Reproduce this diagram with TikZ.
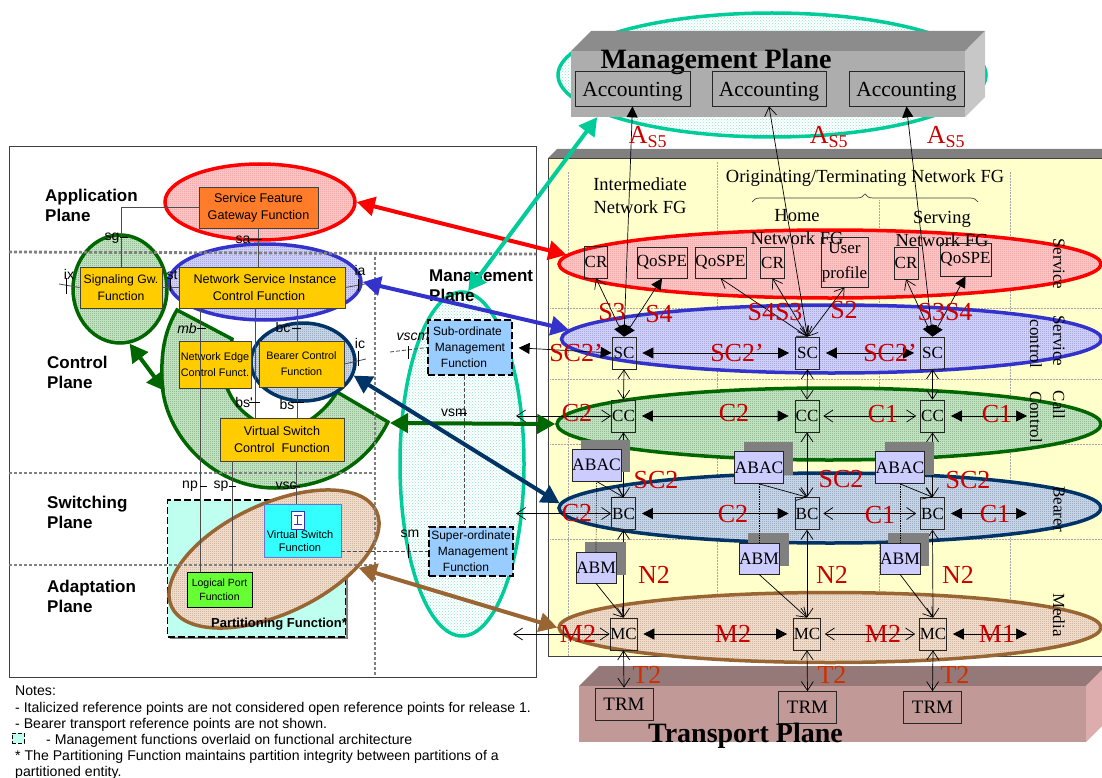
\documentclass[tikz,border=0pt]{standalone}
\usepackage{fontspec}
\setmainfont{Liberation Serif}
\newfontfamily\arialfont{Liberation Sans}
\usetikzlibrary{arrows.meta,patterns,shapes.geometric,decorations.pathreplacing}
\definecolor{planered}{HTML}{FF0000}
\definecolor{planeblue}{HTML}{3333CC}
\definecolor{planegreen}{HTML}{006600}
\definecolor{planenavy}{HTML}{003366}
\definecolor{planebrown}{HTML}{996633}
\definecolor{planeteal}{HTML}{00CC99}
\definecolor{meshred}{HTML}{F0A8A8}
\definecolor{tintred}{HTML}{F8C4C4}
\definecolor{meshblue}{HTML}{A8A8E0}
\definecolor{tintblue}{HTML}{D0D0F4}
\definecolor{meshgreen}{HTML}{90BC90}
\definecolor{tintgreen}{HTML}{C4E0C4}
\definecolor{meshnavy}{HTML}{98ACC4}
\definecolor{tintnavy}{HTML}{C8D4E4}
\definecolor{meshbrown}{HTML}{D4B8A0}
\definecolor{tintbrown}{HTML}{ECDCD0}
\definecolor{labelred}{HTML}{CC0000}
\definecolor{labelorange}{HTML}{D03000}
\definecolor{panelyellow}{HTML}{FFFFCC}
\definecolor{boxamber}{HTML}{FFCC00}
\definecolor{boxorange}{HTML}{FF7C2A}
\definecolor{boxsky}{HTML}{99CCFF}
\definecolor{boxlilac}{HTML}{CCCCFF}
\definecolor{boxaqua}{HTML}{BFFFEF}
\definecolor{boxcyan}{HTML}{33FFFF}
\definecolor{boxlime}{HTML}{66FF33}
\definecolor{iconblue}{HTML}{3333CC}
\definecolor{dotgray}{HTML}{808080}
\definecolor{transfrontcol}{HTML}{C19A98}
\definecolor{transtopcol}{HTML}{957878}
\definecolor{transsidecol}{HTML}{DDADAD}
\pgfdeclarepatternformonly{finemesh}{\pgfqpoint{-.5pt}{-.5pt}}{\pgfqpoint{1.5pt}{1.5pt}}{\pgfqpoint{2pt}{2pt}}{
  \pgfpathrectangle{\pgfqpoint{0pt}{0pt}}{\pgfqpoint{1pt}{1pt}}
  \pgfusepath{fill}
}

\begin{document}
\begin{tikzpicture}[x=1pt, y=-1pt,
    planeoval/.style n args={3}{ellipse, inner sep=0pt, draw=#1, line width=3.5pt, pattern=finemesh, pattern color=#2, preaction={fill=#3}},
    tealoval/.style={ellipse, inner sep=0pt, draw=planeteal, line width=3.5pt, pattern=crosshatch dots, pattern color=planeteal!45!white, preaction={fill=white}},
    planearrow/.style={line width=4pt, {Triangle[length=18pt,width=19pt]}-{Triangle[length=18pt,width=19pt]}},
    funcbox/.style={draw=black!75, line width=.8pt, inner sep=0pt, align=center, font=\fontsize{12.6}{17}\selectfont\arialfont},
    mgmtbox/.style={funcbox, fill=boxsky, draw=black, dash pattern=on 7pt off 3pt, line width=1.2pt, font=\fontsize{12}{16}\selectfont\arialfont},
    elembox/.style={draw=black!85, line width=.7pt, inner sep=0pt, align=center, font=\fontsize{17}{20}\selectfont},
    acctbox/.style={elembox, minimum height=35pt, text height=18pt, text depth=2pt, font=\fontsize{21.5}{24}\selectfont},
    tallbox/.style={elembox, minimum width=24pt, minimum height=32pt},
    trmbox/.style={elembox, minimum width=58pt, minimum height=32pt, font=\fontsize{19}{20}\selectfont},
    shadowbox/.style={fill=dotgray, inner sep=0pt},
    lilacbox/.style={elembox, fill=boxlilac, font=\fontsize{17.5}{20}\selectfont},
    planename/.style={anchor=west, inner sep=0pt, align=left, font=\fontsize{17}{20}\selectfont\arialfont\bfseries},
    reflabel/.style={font=\fontsize{14}{14}\selectfont\arialfont, inner sep=0pt},
    refline/.style={draw=black!70, line width=.8pt},
    reftick/.style={draw=black, line width=.6pt},
    dashline/.style={draw=black!70, dash pattern=on 4pt off 2pt, line width=.8pt},
    planeline/.style={draw=dotgray, line width=2.8pt, dash pattern=on 3pt off 2pt},
    gridline/.style={draw=black!35, line width=.5pt, densely dotted},
    redlabel/.style={text=labelred, inner sep=0pt, font=\fontsize{26}{28}\selectfont},
    sidelabel/.style={rotate=-90, inner sep=0pt, font=\fontsize{17}{20}\selectfont},
    fgtext/.style={inner sep=0pt, align=center, font=\fontsize{18.5}{23}\selectfont},
    fill both/.style={line width=.7pt, {Triangle[length=11pt,width=11pt]}-{Triangle[length=11pt,width=11pt]}},
    open both/.style={line width=.7pt, {Straight Barb[length=9pt,width=12pt]}-{Straight Barb[length=9pt,width=12pt]}},
    open end/.style={line width=.7pt, -{Straight Barb[length=9pt,width=12pt]}},
    open fill/.style={line width=.7pt, {Straight Barb[length=9pt,width=12pt]}-{Triangle[length=11pt,width=11pt]}}
  ]
  \useasboundingbox (0,0) rectangle (1102,778);

  \draw[black!75, line width=.9pt] (9,146) rectangle (536,677);

  \fill[panelyellow] (548,158) rectangle (1102,656);
  \fill[black!50] (548,158) -- (557,149) -- (1102,149) -- (1102,158) -- cycle;
  \draw[black!75, line width=.8pt] (1102,158) -- (548,158) -- (548,656) -- (1102,656);
  \draw[gridline] (568,172) -- (568,656);
  \draw[gridline] (717,162) -- (717,656);
  \draw[gridline] (879,200) -- (879,656);
  \draw[gridline] (1010,172) -- (1010,656);
  \draw[gridline] (550,308) -- (1102,308);
  \draw[gridline] (550,379) -- (1102,379);
  \draw[gridline] (550,444) -- (1102,444);
  \draw[gridline] (550,539) -- (1102,539);

  \node[tealoval, minimum width=428pt, minimum height=124pt] (mgmtoval) at (772,75) {};
  \fill[black!45] (571,51) -- (591,31) -- (985,31) -- (965,51) -- cycle;
  \fill[black!22] (965,51) -- (985,31) -- (985,97) -- (965,117) -- cycle;
  \node[fill=black!32, inner sep=0pt, minimum width=394pt, minimum height=66pt] (mgmtfront) at (768,84) {};
  \node[inner sep=0pt, font=\fontsize{28}{30}\selectfont\bfseries] (mgmttitle) at (716,62) {Management Plane};
  \node[acctbox, minimum width=115pt] (acctone) at (632.5,88.5) {Accounting};
  \node[acctbox, minimum width=114pt] (accttwo) at (769,88.5) {Accounting};
  \node[acctbox, minimum width=115pt] (acctthree) at (906.5,88.5) {Accounting};

  \fill[transtopcol] (579,686) -- (599,666) -- (1106,666) -- (1086,686) -- cycle;
  \fill[transsidecol] (1086,686) -- (1106,666) -- (1106,722) -- (1086,742) -- cycle;
  \node[fill=transfrontcol, inner sep=0pt, minimum width=507pt, minimum height=56pt] (transfront) at (832.5,714) {};

  \node[planeoval={planered}{meshred}{tintred}, minimum width=190pt, minimum height=76pt] (featoval) at (260,202) {};
  \node[planeoval={planegreen}{meshgreen}{tintgreen}, minimum width=94pt, minimum height=108pt] (sigoval) at (120,289) {};
  \node[planeoval={planeblue}{meshblue}{tintblue}, minimum width=192pt, minimum height=76pt] (nsioval) at (265,282) {};
  \filldraw[draw=planegreen, line width=3.5pt, pattern=finemesh, pattern color=meshgreen, preaction={fill=tintgreen}]
    (177,310) -- (232,339) -- (226,385) .. controls (233,405) and (245,415) .. (262,425)
    -- (310,420) .. controls (322,412) and (331,402) .. (337,392) -- (388,422)
    .. controls (365,468) and (322,488) .. (275,488) .. controls (210,488) and (160,430) .. (162,375)
    .. controls (161,345) and (168,325) .. (177,310) -- cycle;
  \coordinate (piefront) at (165,391);
  \coordinate (pietip) at (390,423);
  \node[planeoval={planenavy}{meshnavy}{tintnavy}, minimum width=104pt, minimum height=78pt] (bearoval) at (303,362) {};
  \node[fill=black!50, inner sep=0pt, minimum width=178pt, minimum height=137pt] (partshadow) at (258.5,570.5) {};
  \node[draw=black, dash pattern=on 7pt off 3pt, line width=1.2pt, fill=boxaqua, inner sep=0pt, minimum width=178pt, minimum height=137pt] (partbox) at (256.5,568.5) {};
  \node[planeoval={planebrown}{meshbrown}{tintbrown}, rotate=25, minimum width=226pt, minimum height=110pt] (brownoval) at (274,559) {};
  \node[tealoval, minimum width=124pt, minimum height=344pt] (leftmgmtoval) at (462,464) {};

  \draw[planeline] (9,252) -- (536,254);
  \draw[planeline] (9,473) -- (375,473);
  \draw[planeline] (9,565) -- (375,565);
  \draw[planeline] (375,252) -- (375,677);

  \node[funcbox, fill=boxorange, minimum width=119pt, minimum height=41pt] (featbox) at (258.5,207.5) {Service Feature\\Gateway Function};
  \node[funcbox, fill=boxamber, minimum width=82pt, minimum height=41pt, font=\fontsize{12.2}{17}\selectfont\arialfont] (sigbox) at (121,287.5) {Signaling Gw.\\Function};
  \node[funcbox, fill=boxamber, minimum width=166pt, minimum height=41pt] (nsibox) at (262,287.5) {\hspace*{6pt}Network Service Instance\\Control Function\hspace*{6pt}};
  \node[funcbox, fill=boxamber, minimum width=72pt, minimum height=47pt, font=\fontsize{10.9}{16}\selectfont\arialfont] (edgebox) at (215,364.5) {Network Edge\\Control Funct.};
  \node[funcbox, fill=boxamber, minimum width=85pt, minimum height=46pt, font=\fontsize{10.8}{16}\selectfont\arialfont] (bearbox) at (301.5,364) {Bearer Control\\Function};
  \node[funcbox, fill=boxamber, minimum width=124pt, minimum height=43pt] (vsctlbox) at (282,439.5) {Virtual Switch\\Control~ Function};
  \node[funcbox, draw=iconblue!70!white, fill=boxcyan, minimum width=77pt, minimum height=53pt] (vswbox) at (302.5,530.5) {};
  \node[draw=iconblue, fill=white, inner sep=0pt, minimum width=13pt, minimum height=18pt] (vswicon) at (297.5,520) {};
  \draw[iconblue, line width=1pt] (293.5,515.5) -- (301.5,515.5) (297.5,515.5) -- (297.5,524.5) (293.5,524.5) -- (301.5,524.5);
  \node[inner sep=0pt, align=center, font=\fontsize{11}{13.5}\selectfont\arialfont] (vswtext) at (300,541) {Virtual Switch\\Function};
  \node[funcbox, draw=black, fill=boxlime, minimum width=65pt, minimum height=35pt, font=\fontsize{10.5}{14}\selectfont\arialfont] (portbox) at (219.5,589.5) {Logical Port\\Function};
  \node[inner sep=0pt, font=\fontsize{13}{15}\selectfont\arialfont\bfseries] (parttext) at (279,624) {Partitioning Function*};
  \node[mgmtbox, minimum width=84pt, minimum height=55pt] (subbox) at (470,347.5) {Sub-ordinate\hspace*{5pt}\\Management\hspace*{5pt}\\Function\hspace*{12pt}};
  \node[mgmtbox, minimum width=84pt, minimum height=49pt] (superbox) at (471,551.5) {Super-ordinate\\\hspace*{4pt}Management\\Function\hspace*{10pt}};

  \coordinate (npx) at (200,0);
  \coordinate (bsax) at (255,0);
  \coordinate (bsx) at (297,0);
  \coordinate (spx) at (232.5,0);
  \coordinate (vscx) at (296,0);
  \coordinate (mgx) at (464,0);
  \coordinate (ixend) at (59,284);
  \coordinate (iaend) at (365,284);
  \coordinate (icend) at (366,359);
  \coordinate (vscmend) at (390,352);
  \draw[refline] (featbox.west) -| (sigbox.north);
  \draw[refline] (featbox.south) -- (nsibox.north -| featbox.south);
  \draw[refline] (sigbox.east) -- (nsibox.west);
  \draw[refline] (ixend) -- (sigbox.west);
  \draw[refline] (nsibox.east) -- (iaend);
  \draw[refline] (nsibox.south -| npx) -- (portbox.north -| npx);
  \draw[refline] (nsibox.south -| bsax) -- (vsctlbox.north -| bsax);
  \draw[refline] (nsibox.south -| bsx) -- (bearbox.north -| bsx);
  \draw[refline] (bearbox.south -| bsx) -- (vsctlbox.north -| bsx);
  \draw[refline] (bearbox.east) -- (icend);
  \draw[refline] (vsctlbox.south -| spx) -- (portbox.north -| spx);
  \draw[refline] (vsctlbox.south -| vscx) -- (vswbox.north -| vscx);
  \draw[dashline] (vscmend) -- (subbox.west);
  \draw[dashline] (vswbox.east |- superbox.west) -- (superbox.west);
  \draw[dashline] (subbox.south -| mgx) -- (superbox.north -| mgx);

  \draw[reftick] (120,237) -- (128,237);
  \draw[reftick] (250,239) -- (262,239);
  \draw[reftick] (66,278) -- (66,294);
  \draw[reftick] (170,279) -- (170,291);
  \draw[reftick] (358,279) -- (358,291);
  \draw[reftick] (197,328) -- (206,328);
  \draw[reftick] (292,328) -- (301,328);
  \draw[reftick] (358,351) -- (358,366);
  \draw[reftick] (249,402) -- (260,402);
  \draw[reftick] (291,402) -- (304,402);
  \draw[reftick] (200,486) -- (207,486);
  \draw[reftick] (229,486) -- (236,486);
  \draw[reftick] (293,486) -- (300,486);
  \draw[reftick] (408,346) -- (408,359);
  \draw[reftick] (458,413) -- (467,413);
  \draw[reftick] (408,544) -- (408,558);

  \node[reflabel] (sglabel) at (112,238) {sg};
  \node[reflabel] (salabel) at (243,240) {sa};
  \node[reflabel] (ixlabel) at (69,274) {ix};
  \node[reflabel] (stlabel) at (172,275) {st};
  \node[reflabel] (ialabel) at (360,270) {ia};
  \node[reflabel] (mblabel) at (187,328) {\itshape mb};
  \node[reflabel] (bclabel) at (283,327) {bc};
  \node[reflabel] (iclabel) at (360,343) {ic};
  \node[reflabel] (bsalabel) at (244,402) {bs'};
  \node[reflabel] (bslabel) at (287,404) {bs};
  \node[reflabel] (nplabel) at (190,486) {np};
  \node[reflabel] (splabel) at (221,486) {sp};
  \node[reflabel] (vsclabel) at (286,486) {vsc};
  \node[reflabel] (vscmlabel) at (413,337) {\itshape vscm};
  \node[reflabel] (vsmlabel) at (454,413) {vsm};
  \node[reflabel] (smlabel) at (410,534) {sm};

  \node[planename] (appname) at (45,205) {Application\\Plane};
  \node[planename] (ctlname) at (47,372) {Control\\Plane};
  \node[planename] (swname) at (47,512) {Switching\\Plane};
  \node[planename] (adname) at (47,596) {Adaptation\\Plane};
  \node[planename] (mgname) at (429,286) {Management\\Plane};

  \node[fgtext] (intertext) at (640,195.5) {Intermediate\\Network FG};
  \node[fgtext] (origtext) at (865,178) {Originating/Terminating Network FG};
  \draw[black!75, line width=.7pt, decorate, decoration={brace, amplitude=8pt}] (752,202) -- (978,202);

  \node[planeoval={planered}{meshred}{tintred}, minimum width=542pt, minimum height=68pt] (svcoval) at (830,264) {};
  \node[planeoval={planeblue}{meshblue}{tintblue}, minimum width=540pt, minimum height=68pt] (ctloval) at (831.5,339) {};
  \node[planeoval={planegreen}{meshgreen}{tintgreen}, minimum width=544pt, minimum height=72pt] (calloval) at (829,424) {};
  \node[planeoval={planenavy}{meshnavy}{tintnavy}, minimum width=542pt, minimum height=70pt] (bearplaneoval) at (830,508) {};
  \node[planeoval={planebrown}{meshbrown}{tintbrown}, minimum width=542pt, minimum height=70pt] (mediaoval) at (830,627.5) {};

  \node[fgtext] (hometext) at (797,227.5) {Home\\Network FG};
  \node[fgtext] (servtext) at (942,228.5) {Serving\\Network FG};
  \node[sidelabel] (servicetext) at (1059,264) {Service};
  \node[sidelabel] (servicectext) at (1059,341) {Service};
  \node[sidelabel] (controlctext) at (1036,344) {control};
  \node[sidelabel] (calltext) at (1059,405) {Call};
  \node[sidelabel] (controltext) at (1036,417) {Control};
  \node[sidelabel] (bearertext) at (1059,509) {Bearer};
  \node[sidelabel] (mediatext) at (1059,615) {Media};

  \node[elembox, minimum width=23pt, minimum height=32pt] (crone) at (596,262) {CR};
  \node[elembox, minimum width=50pt, minimum height=31pt] (qosone) at (662,262.5) {QoSPE};
  \node[elembox, minimum width=51pt, minimum height=31pt] (qostwo) at (720.5,262.5) {QoSPE};
  \node[elembox, minimum width=24pt, minimum height=31pt] (crtwo) at (772.5,262.5) {CR};
  \node[elembox, minimum width=47pt, minimum height=50pt, font=\fontsize{17}{25}\selectfont] (userbox) at (844.5,262) {User\\\makebox[40pt]{profile}};
  \node[elembox, minimum width=24pt, minimum height=32pt] (crthree) at (906,263) {CR};
  \node[elembox, minimum width=51pt, minimum height=33pt] (qosthree) at (965.5,259.5) {QoSPE};

  \node[tallbox] (scone) at (624,353) {SC};
  \node[tallbox] (sctwo) at (807.5,353) {SC};
  \node[tallbox] (scthree) at (932.5,353) {SC};
  \node[tallbox] (ccone) at (623.5,416) {CC};
  \node[tallbox] (cctwo) at (807,416) {CC};
  \node[tallbox] (ccthree) at (932.5,416) {CC};
  \node[tallbox] (bcone) at (623.5,513.5) {BC};
  \node[tallbox] (bctwo) at (807,513.5) {BC};
  \node[tallbox] (bcthree) at (932.5,513.5) {BC};
  \node[tallbox, minimum width=27pt] (mcone) at (623.5,634) {MC};
  \node[tallbox, minimum width=27pt] (mctwo) at (807,634) {MC};
  \node[tallbox, minimum width=27pt] (mcthree) at (933,634) {MC};
  \node[trmbox] (trmone) at (624,704) {TRM};
  \node[trmbox] (trmtwo) at (807.5,707.5) {TRM};
  \node[trmbox] (trmthree) at (932.5,707.5) {TRM};
  \node[inner sep=0pt, font=\fontsize{28}{30}\selectfont\bfseries] (transtitle) at (745.5,736) {Transport Plane};

  \coordinate (ccleft) at (516,416);
  \coordinate (bcleft) at (516,513.5);
  \coordinate (mcleft) at (513,634);
  \coordinate (ccright) at (1027,416);
  \coordinate (bcright) at (1027,513.5);
  \coordinate (mcright) at (1027,634);

  \draw[fill both] (acctone.south) -- (scone.north);
  \draw[fill both] (acctthree.south) -- (scthree.north);
  \draw[open fill] (crone.south) -- (scone.north);
  \draw[fill both] (qosone.south) -- (scone.north);
  \draw[open both] (qostwo.south) -- (sctwo.north);
  \draw[open both] (crtwo.south) -- (sctwo.north);
  \draw[open both] (accttwo.south) -- (sctwo.north);
  \draw[open both] (userbox.south) -- (sctwo.north);
  \draw[open fill] (crthree.south) -- (scthree.north);
  \draw[fill both] (qosthree.south) -- (scthree.north);

  \draw[fill both, shorten <=6pt] (subbox.east) -- (scone.west);
  \draw[fill both, shorten <=6pt, shorten >=6pt] (scone.east) -- (sctwo.west);
  \draw[fill both, shorten <=6pt, shorten >=6pt] (sctwo.east) -- (scthree.west);
  \draw[open both] (ccleft) -- (ccone.west);
  \draw[fill both, shorten <=6pt, shorten >=6pt] (ccone.east) -- (cctwo.west);
  \draw[open both, shorten <=4pt, shorten >=4pt] (cctwo.east) -- (ccthree.west);
  \draw[fill both, shorten <=6pt] (ccthree.east) -- (ccright);
  \draw[open both] (bcleft) -- (bcone.west);
  \draw[fill both, shorten <=6pt, shorten >=6pt] (bcone.east) -- (bctwo.west);
  \draw[open both, shorten <=4pt, shorten >=4pt] (bctwo.east) -- (bcthree.west);
  \draw[fill both, shorten <=6pt] (bcthree.east) -- (bcright);
  \draw[open both] (mcleft) -- (mcone.west);
  \draw[fill both, shorten <=6pt, shorten >=6pt] (mcone.east) -- (mctwo.west);
  \draw[open both, shorten <=4pt, shorten >=4pt] (mctwo.east) -- (mcthree.west);
  \draw[fill both, shorten <=6pt] (mcthree.east) -- (mcright);

  \draw[open both] (scone.south) -- (ccone.north);
  \draw[open both] (sctwo.south) -- (cctwo.north);
  \draw[open both] (scthree.south) -- (ccthree.north);
  \draw[open both] (ccone.south) -- (bcone.north);
  \draw[open both] (cctwo.south) -- (bctwo.north);
  \draw[open both] (ccthree.south) -- (bcthree.north);
  \draw[open both] (bcone.south) -- (mcone.north);
  \draw[open both] (bctwo.south) -- (mctwo.north);
  \draw[open both] (bcthree.south) -- (mcthree.north);
  \draw[open both] (mcone.south) -- (trmone.north);
  \draw[open both] (mctwo.south) -- (trmtwo.north);
  \draw[open both] (mcthree.south) -- (trmthree.north);

  \node[shadowbox, minimum width=49pt, minimum height=32pt] (abacshone) at (605.5,456) {};
  \node[shadowbox, minimum width=49pt, minimum height=33pt] (abacshtwo) at (768.5,458.5) {};
  \node[shadowbox, minimum width=49pt, minimum height=33pt] (abacshthree) at (909.5,458.5) {};
  \node[shadowbox, minimum width=41pt, minimum height=33pt] (abmshone) at (605.5,558.5) {};
  \node[shadowbox, minimum width=41pt, minimum height=33pt] (abmshtwo) at (768.5,549.5) {};
  \node[shadowbox, minimum width=41pt, minimum height=33pt] (abmshthree) at (908.5,549.5) {};
  \node[lilacbox, minimum width=49pt, minimum height=32pt] (abacone) at (596.5,465) {ABAC};
  \node[lilacbox, minimum width=48pt, minimum height=32pt] (abactwo) at (759,467.5) {ABAC};
  \node[lilacbox, minimum width=48pt, minimum height=32pt] (abacthree) at (900,467.5) {ABAC};
  \node[lilacbox, minimum width=40pt, minimum height=31pt] (abmone) at (596,567.5) {ABM};
  \node[lilacbox, minimum width=40pt, minimum height=31pt] (abmtwo) at (759,558.5) {ABM};
  \node[lilacbox, minimum width=40pt, minimum height=31pt] (abmthree) at (900,558.5) {ABM};

  \draw[open end] (abacone.south) -- (bcone.north);
  \draw[open end] (abactwo.south) -- (bctwo.north);
  \draw[open end] (abacthree.south) -- (bcthree.north);
  \draw[open end] (abmone.south) -- (mcone.north);
  \draw[open end] (abmtwo.south) -- (mctwo.north);
  \draw[open end] (abmthree.south) -- (mcthree.north);
  \draw[black, densely dotted, line width=.7pt] (abacone.south) -- (abmone.north);
  \draw[black, densely dotted, line width=.7pt] (abactwo.south) -- (abmtwo.north);
  \draw[black, densely dotted, line width=.7pt] (abacthree.south) -- (abmthree.north);

  \node[redlabel] (asfiveone) at (648,137) {A\textsubscript{\fontsize{18}{18}\selectfont S5}};
  \node[redlabel] (asfivetwo) at (829,137) {A\textsubscript{\fontsize{18}{18}\selectfont S5}};
  \node[redlabel] (asfivethree) at (946,137) {A\textsubscript{\fontsize{18}{18}\selectfont S5}};
  \node[redlabel] (sthreeone) at (612,312) {S3};
  \node[redlabel] (sfourone) at (659,314) {S4};
  \node[redlabel] (sfourthree) at (775,312) {S4S3};
  \node[redlabel] (stwo) at (844,310) {S2};
  \node[redlabel] (sthreefour) at (945,312) {S3S4};
  \node[redlabel] (sctwoone) at (576,353) {SC2’};
  \node[redlabel] (sctwotwo) at (737,353) {SC2’};
  \node[redlabel] (sctwothree) at (890,353) {SC2’};
  \node[redlabel] (ctwoone) at (577,413) {C2};
  \node[redlabel] (ctwotwo) at (734,413) {C2};
  \node[redlabel] (coneone) at (883,414) {C1};
  \node[redlabel] (conetwo) at (997,414) {C1};
  \node[redlabel] (scplainone) at (656,480) {SC2};
  \node[redlabel] (scplaintwo) at (841,479) {SC2};
  \node[redlabel] (scplainthree) at (968,480) {SC2};
  \node[redlabel] (ctwothree) at (577,513) {C2};
  \node[redlabel] (ctwofour) at (733,514) {C2};
  \node[redlabel] (conethree) at (880,515) {C1};
  \node[redlabel] (conefour) at (995,514) {C1};
  \node[redlabel] (ntwoone) at (654,575) {N2};
  \node[redlabel] (ntwotwo) at (832,575) {N2};
  \node[redlabel] (ntwothree) at (958,575) {N2};
  \node[redlabel] (mtwoone) at (578,634) {M2};
  \node[redlabel] (mtwotwo) at (733,634) {M2};
  \node[redlabel] (mtwothree) at (883,634) {M2};
  \node[redlabel] (mone) at (997,634) {M1};
  \node[redlabel, text=labelorange] (ttwoone) at (647,675) {T2};
  \node[redlabel, text=labelorange] (ttwotwo) at (832,675) {T2};
  \node[redlabel, text=labelorange] (ttwothree) at (955,675) {T2};

  \draw[planearrow, draw=planered, fill=planered] (featoval.east) -- (svcoval.178);
  \draw[planearrow, draw=planeblue, fill=planeblue] (nsioval.east) -- (ctloval.178);
  \draw[planearrow, draw=planegreen, fill=planegreen] (sigoval.-80) -- (piefront);
  \draw[planearrow, draw=planegreen, fill=planegreen] (pietip) -- (calloval.west);
  \draw[planearrow, draw=planenavy, fill=planenavy] (bearoval.-15) -- (bearplaneoval.179);
  \draw[planearrow, draw=planebrown, fill=planebrown] (brownoval.-31) -- (mediaoval.west);
  \draw[planearrow, draw=planeteal, fill=planeteal] (mgmtfront.191) -- (leftmgmtoval.88);

  \node[anchor=north west, inner sep=0pt, align=left, font=\fontsize{14.1}{16.1}\selectfont\arialfont] (notestext) at (15,686) {Notes:\\
    - Italicized reference points are not considered open reference points for release 1.\\
    - Bearer transport reference points are not shown.\\
    \hspace*{31pt}- Management functions overlaid on functional architecture\\
    * The Partitioning Function maintains partition integrity between partitions of a\\
    partitioned entity.};
  \node[draw=black, dash pattern=on 4pt off 2pt, line width=.8pt, fill=boxaqua, inner sep=0pt, minimum width=12pt, minimum height=10pt] (legendbox) at (18,738) {};
\end{tikzpicture}
\end{document}
